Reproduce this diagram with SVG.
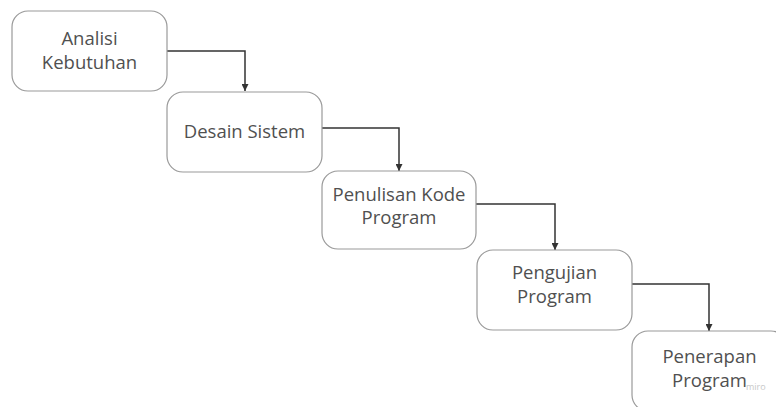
<svg xmlns="http://www.w3.org/2000/svg" width="776" height="407" viewBox="0 0 776 407">
<defs>
<style>
.box{fill:#ffffff;stroke:#9a9a9a;stroke-width:1.2}
.lbl{font-family:"Open Sans","Noto Sans",sans-serif;font-size:18.5px;fill:#505050;text-anchor:middle}
.con{fill:none;stroke:#333333;stroke-width:1.5}
.wm{font-family:"Open Sans",sans-serif;font-size:9px;fill:#c8c8c8}
</style>
<marker id="ah" viewBox="0 0 10 10" refX="10" refY="5" markerWidth="7" markerHeight="7" markerUnits="userSpaceOnUse" orient="auto">
<path d="M0,0 L10,5 L0,10 z" fill="#333333"/>
</marker>
</defs>
<rect width="776" height="407" fill="#ffffff"/>
<g id="connectors">
<path class="con" d="M167,51 H245 V91" marker-end="url(#ah)"/>
<path class="con" d="M322,128 H399 V171" marker-end="url(#ah)"/>
<path class="con" d="M476,204 H555 V250" marker-end="url(#ah)"/>
<path class="con" d="M632,284 H709 V331" marker-end="url(#ah)"/>
</g>
<g id="n1">
<rect class="box" x="12" y="11" width="155" height="80" rx="16"/>
<text class="lbl" x="89.5" y="45">Analisi</text>
<text class="lbl" x="89.5" y="69">Kebutuhan</text>
</g>
<g id="n2">
<rect class="box" x="167" y="92" width="155" height="80" rx="16"/>
<text class="lbl" x="244.5" y="138">Desain Sistem</text>
</g>
<g id="n3">
<rect class="box" x="322" y="171" width="154" height="78" rx="16"/>
<text class="lbl" x="399" y="201">Penulisan Kode</text>
<text class="lbl" x="399" y="224">Program</text>
</g>
<g id="n4">
<rect class="box" x="477" y="250" width="155" height="80" rx="16"/>
<text class="lbl" x="554.5" y="279">Pengujian</text>
<text class="lbl" x="554.5" y="303">Program</text>
</g>
<g id="n5">
<rect class="box" x="632" y="331" width="155" height="80" rx="16"/>
<text class="lbl" x="709.5" y="363">Penerapan</text>
<text class="lbl" x="709.5" y="387">Program</text>
</g>
<text class="wm" x="746" y="390">miro</text>
</svg>
